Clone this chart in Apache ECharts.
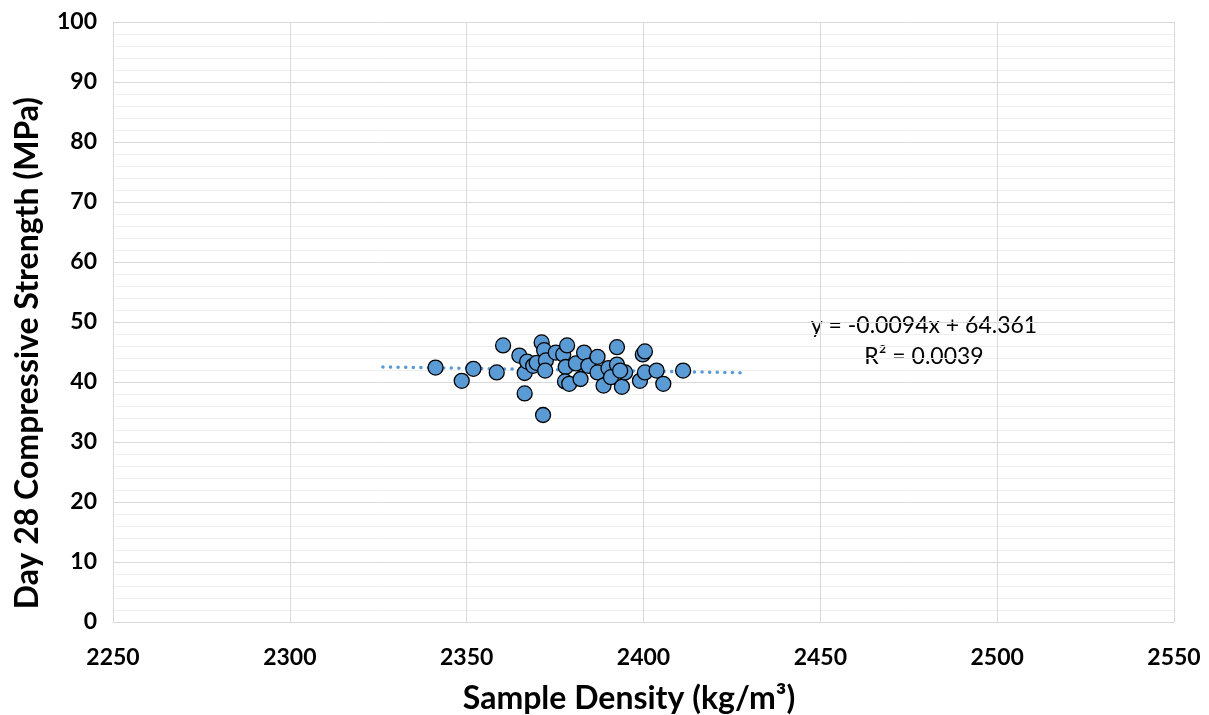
<!DOCTYPE html>
<html>
<head>
<meta charset="utf-8">
<script src="https://cdn.jsdelivr.net/npm/echarts@6/dist/echarts.min.js"></script>
<style>
html,body{margin:0;padding:0;background:#fff;}
#chart{width:1209px;height:715px;}
</style>
</head>
<body>
<div id="chart"></div>
<script>
const densities = [2341.2, 2348.6, 2351.9, 2358.5, 2360.3, 2364.9, 2366.4, 2366.4, 2367.1, 2368.8,
  2369.8, 2371.2, 2371.6, 2371.9, 2372.4, 2372.2, 2375.2, 2377.3, 2378.4, 2378.0,
  2377.8, 2379.0, 2380.9, 2382.2, 2383.2, 2384.4, 2387.0, 2387.0, 2388.7, 2390.1,
  2390.8, 2392.5, 2392.5, 2393.9, 2394.8, 2393.4, 2399.0, 2399.8, 2400.4, 2400.4,
  2403.7, 2405.6, 2411.2];
const strengths = [42.4, 40.2, 42.2, 41.6, 46.1, 44.4, 41.5, 38.1, 43.4, 42.7,
  43.2, 46.6, 34.5, 45.3, 43.6, 41.9, 44.9, 44.6, 46.1, 42.5,
  40.1, 39.7, 43.1, 40.5, 44.9, 42.7, 44.2, 41.6, 39.4, 42.3,
  40.8, 45.8, 42.9, 39.2, 41.6, 41.9, 40.2, 44.6, 45.1, 41.6,
  41.9, 39.7, 41.9];
const trendX = [2326.3, 2427.3];
const trendY = [42.5, 41.55];
const xTicks = [2250, 2300, 2350, 2400, 2450, 2500, 2550];
const yTicks = [0, 10, 20, 30, 40, 50, 60, 70, 80, 90, 100];
const xTitle = 'Sample Density (kg/m³)';
const yTitle = 'Day 28 Compressive Strength (MPa)';
const eqText = 'y = -0.0094x + 64.361';
const r2Text = 'R² = 0.0039';

const chart = echarts.init(document.getElementById('chart'));
const font = 'Lato, "Open Sans", "Liberation Sans", sans-serif';
chart.setOption({
  animation: false,
  backgroundColor: '#fff',
  grid: { left: 113, top: 22, right: 35, bottom: 93, containLabel: false, outerBoundsMode: 'none' },
  xAxis: {
    type: 'value',
    min: xTicks[0], max: xTicks[xTicks.length - 1], interval: 50,
    axisLine: { show: true, lineStyle: { color: '#d9d9d9', width: 1 } },
    axisTick: { show: false },
    axisLabel: { fontFamily: font, fontWeight: 'bold', fontSize: 23, color: '#000', margin: 24,
      formatter: v => String(v) },
    splitLine: { show: true, lineStyle: { color: '#d9d9d9', width: 1 } }
  },
  yAxis: {
    type: 'value',
    min: yTicks[0], max: yTicks[yTicks.length - 1], interval: 10,
    axisLine: { show: true, lineStyle: { color: '#d9d9d9', width: 1 } },
    axisTick: { show: false },
    axisLabel: { fontFamily: font, fontWeight: 'bold', fontSize: 23, color: '#000', margin: 16,
      formatter: v => String(v) },
    splitLine: { show: true, lineStyle: { color: '#d9d9d9', width: 1 } },
    minorTick: { show: false, splitNumber: 5 },
    minorSplitLine: { show: true, lineStyle: { color: '#efefef', width: 1 } }
  },
  series: [
    {
      type: 'line',
      data: trendX.map((x, i) => [x, trendY[i]]),
      showSymbol: false,
      symbol: 'none',
      lineStyle: { color: '#5B9BD5', width: 3.5, type: [0.1, 7.5], cap: 'round' },
      z: 1
    },
    {
      type: 'scatter',
      data: densities.map((x, i) => [x, strengths[i]]),
      symbol: 'circle',
      symbolSize: 15,
      itemStyle: { color: '#5B9BD5', borderColor: '#000', borderWidth: 1.3, opacity: 1 },
      z: 2
    }
  ],
  graphic: [
    {
      type: 'text', x: 629, y: 699,
      style: { text: xTitle, fontFamily: font, fontWeight: 'bold', fontSize: 32, fill: '#000',
        align: 'center', verticalAlign: 'middle' }
    },
    {
      type: 'text', x: 28, y: 353, rotation: Math.PI / 2,
      style: { text: yTitle, fontFamily: font, fontWeight: 'bold', fontSize: 32, fill: '#000',
        align: 'center', verticalAlign: 'middle' }
    },
    {
      type: 'text', x: 924, y: 326,
      style: { text: eqText, fontFamily: font, fontSize: 23, fill: '#000',
        align: 'center', verticalAlign: 'middle' }
    },
    {
      type: 'text', x: 924, y: 357,
      style: { text: r2Text, fontFamily: font, fontSize: 23, fill: '#000',
        align: 'center', verticalAlign: 'middle' }
    }
  ]
});
</script>
</body>
</html>
